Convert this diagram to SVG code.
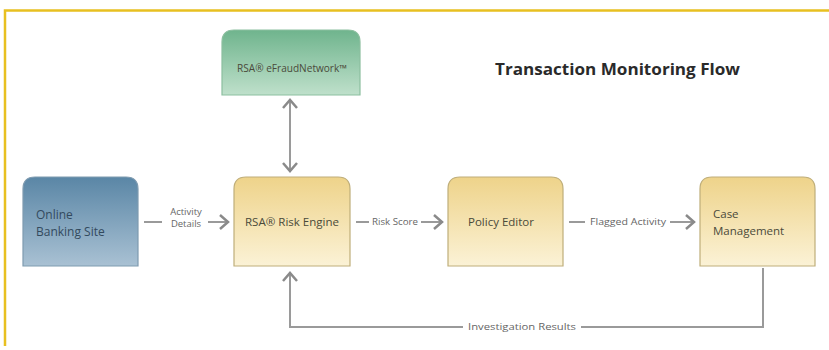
<svg xmlns="http://www.w3.org/2000/svg" width="829" height="350" viewBox="0 0 829 350">
<defs>
<linearGradient id="gy" x1="0" y1="0" x2="0" y2="1"><stop offset="0" stop-color="#eed38a"/><stop offset="1" stop-color="#fbf2d6"/></linearGradient>
<linearGradient id="gb" x1="0" y1="0" x2="0" y2="1"><stop offset="0" stop-color="#5a86a6"/><stop offset="1" stop-color="#a9c1d3"/></linearGradient>
<linearGradient id="gg" x1="0" y1="0" x2="0" y2="1"><stop offset="0" stop-color="#6fb48d"/><stop offset="1" stop-color="#bfe0cb"/></linearGradient>
<marker id="ah" viewBox="0 0 12 16" refX="11" refY="8" markerWidth="12" markerHeight="16" markerUnits="userSpaceOnUse" orient="auto-start-reverse"><path d="M2,1 L10,8 L2,15" fill="none" stroke="#8a8a8a" stroke-width="2.5"/></marker>
</defs>
<style>
.box{stroke:#bfae7a;stroke-width:1.2}
.t{font-family:"Open Sans","Liberation Sans",sans-serif;font-size:11.5px;fill:#4a4a3a}
.l{font-family:"Open Sans","Liberation Sans",sans-serif;font-size:9.5px;fill:#666}
.c{fill:none;stroke:#9a9a9a;stroke-width:2}
</style>
<rect width="829" height="350" fill="#fff"/>
<path d="M5,346 V10.5 H829" fill="none" stroke="#e8c020" stroke-width="2.5"/>
<text x="495" y="75" font-family="'Open Sans','Liberation Sans',sans-serif" font-size="16" font-weight="bold" fill="#2a2a2a" textLength="245" lengthAdjust="spacingAndGlyphs">Transaction Monitoring Flow</text>
<g id="efraud"><path d="M222,95 V42 Q222,30 234,30 H348 Q360,30 360,42 V95 Z" fill="url(#gg)" stroke="#8cbf9f" stroke-width="1.2"/><text x="292" y="72" text-anchor="middle" class="t" style="font-size:10px" textLength="110" lengthAdjust="spacingAndGlyphs">RSA® eFraudNetwork™</text></g>
<g id="online"><path d="M23,266 V189 Q23,177 35,177 H126 Q138,177 138,189 V266 Z" fill="url(#gb)" stroke="#7f9bb0" stroke-width="1.2"/><text x="36" y="219" class="t" style="fill:#334a5e;font-size:12px">Online</text><text x="36" y="236" class="t" style="fill:#334a5e;font-size:12px">Banking Site</text></g>
<g id="risk"><path d="M234,266 V189 Q234,177 246,177 H338 Q350,177 350,189 V266 Z" fill="url(#gy)" class="box"/><text x="292" y="226" text-anchor="middle" class="t" textLength="94" lengthAdjust="spacingAndGlyphs">RSA® Risk Engine</text></g>
<g id="policy"><path d="M448,266 V189 Q448,177 460,177 H551 Q563,177 563,189 V266 Z" fill="url(#gy)" class="box"/><text x="501" y="226" text-anchor="middle" class="t">Policy Editor</text></g>
<g id="case"><path d="M700,266 V189 Q700,177 712,177 H803 Q815,177 815,189 V266 Z" fill="url(#gy)" class="box"/><text x="713" y="218" class="t">Case</text><text x="713" y="235" class="t">Management</text></g>
<g id="connectors">
<line x1="290" y1="99" x2="290" y2="172" class="c" marker-start="url(#ah)" marker-end="url(#ah)"/>
<line x1="144" y1="222" x2="162" y2="222" class="c"/><line x1="208" y1="222" x2="229" y2="222" class="c" marker-end="url(#ah)"/>
<text x="186" y="215" text-anchor="middle" class="l">Activity</text><text x="186" y="227" text-anchor="middle" class="l">Details</text>
<line x1="356" y1="222" x2="369" y2="222" class="c"/><line x1="421" y1="222" x2="443" y2="222" class="c" marker-end="url(#ah)"/>
<text x="395" y="225" text-anchor="middle" class="l" textLength="46" lengthAdjust="spacingAndGlyphs">Risk Score</text>
<line x1="569" y1="222" x2="585" y2="222" class="c"/><line x1="670" y1="222" x2="695" y2="222" class="c" marker-end="url(#ah)"/>
<text x="628" y="225" text-anchor="middle" class="l" textLength="76" lengthAdjust="spacingAndGlyphs">Flagged Activity</text>
<path d="M763,268 V327 H581" class="c"/><path d="M463,327 H290 V272" class="c" marker-end="url(#ah)"/>
<text x="522" y="330" text-anchor="middle" class="l" textLength="108" lengthAdjust="spacingAndGlyphs">Investigation Results</text>
</g>
</svg>
